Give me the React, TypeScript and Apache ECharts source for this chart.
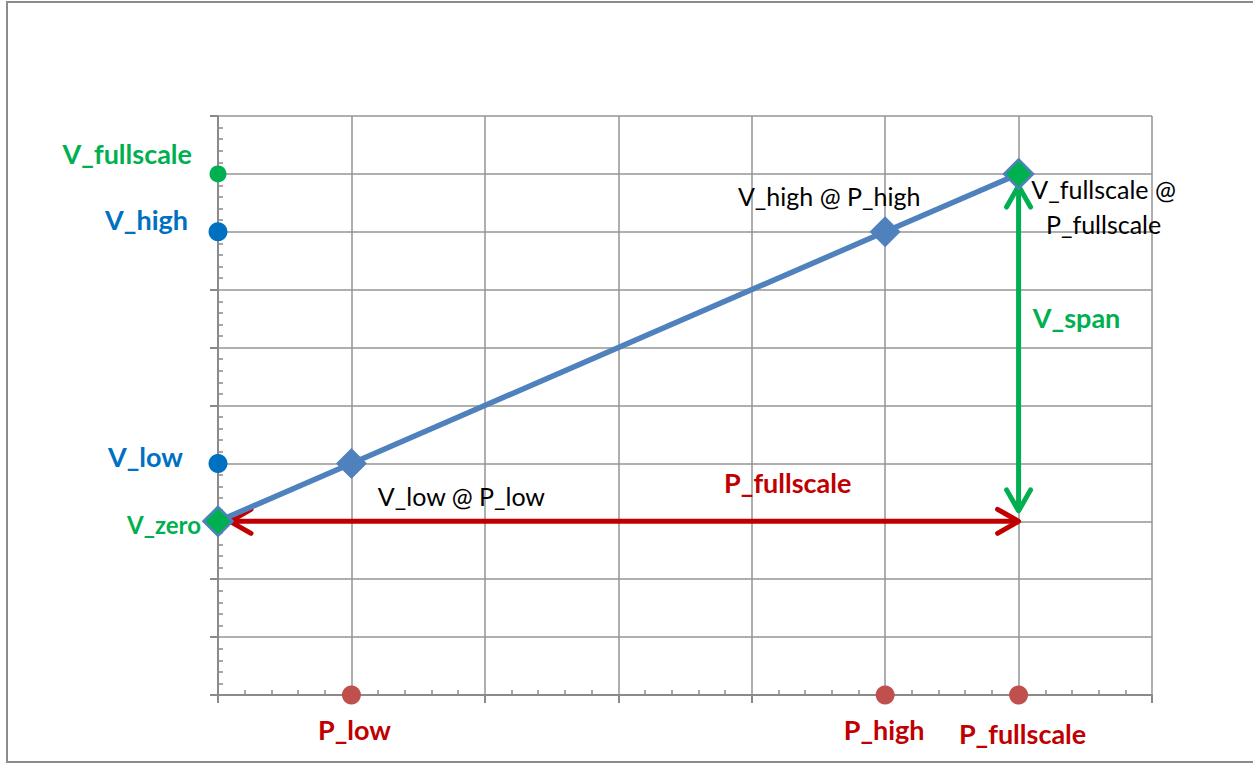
import React, { useEffect, useRef } from "react";
import * as echarts from "echarts";

// ---------- data ----------
const xMin = 0;
const xMax = 7;
const yMin = 0;
const yMax = 10;

// transfer line: pressure (x) vs voltage (y)
const transferX = [0, 1, 5, 6];
const transferY = [3, 4, 8, 9];

// points marked on the pressure axis
const pNames = ["P_low", "P_high", "P_fullscale"];
const pValues = [1, 5, 6];

// points marked on the voltage axis
const vNames = ["V_fullscale", "V_high", "V_low", "V_zero"];
const vValues = [9, 8, 4, 3];
const vDotNames = ["V_fullscale", "V_high", "V_low"];
const vDotValues = [9, 8, 4];

// labels of the transfer-line points
const pointLabelNames = ["V_low @ P_low", "V_high @ P_high", "V_fullscale @\nP_fullscale"];
const pointLabelX = [1, 5, 6];
const pointLabelY = [4, 8, 9];

// span arrows [x1, y1, x2, y2]
const arrowNames = ["P_fullscale", "V_span"];
const pSpanArrow = [0.09, 3, 6, 3];
const vSpanArrow = [6, 3.18, 6, 8.79];
// where the arrow names sit (data coords)
const arrowLabelX = [4.27, 6];
const arrowLabelY = [3, 6.48];

// ---------- styles ----------
const FONT = 'Lato, "Open Sans", "Liberation Sans", sans-serif';
const GRID_COLOR = "#959595";
const AXIS_COLOR = "#8a8a8a";
const BLUE_LINE = "#4f81bd";
const GREEN = "#00b050";
const BLUE = "#0070c0";
const RED = "#c00000";
const RED_DOT = "#c0504d";

type Lbl = {
  value: number[];
  text: string;
  dx: number;
  dy: number;
  color: string;
  size: number;
  bold: boolean;
  align: "left" | "center" | "right";
  lineHeight?: number;
};

function textSeries(name: string, items: Lbl[]) {
  return {
    type: "custom",
    name,
    xAxisIndex: 0,
    yAxisIndex: 0,
    clip: false,
    z: 20,
    silent: true,
    data: items.map((it) => it.value),
    renderItem: (params: any, api: any) => {
      const it = items[params.dataIndex];
      const p = api.coord([api.value(0), api.value(1)]);
      return {
        type: "text",
        x: p[0] + it.dx,
        y: p[1] + it.dy,
        style: {
          text: it.text,
          fill: it.color,
          fontSize: it.size,
          fontWeight: it.bold ? "bold" : "normal",
          fontFamily: FONT,
          align: it.align,
          verticalAlign: "middle",
          lineHeight: it.lineHeight || it.size * 1.2,
        },
      };
    },
  };
}

export default function App() {
  const ref = useRef<HTMLDivElement>(null);

  useEffect(() => {
    if (!ref.current) return;
    const chart = echarts.init(ref.current, null, { renderer: "svg" });

    const vOffsets = [
      { dx: -26, dy: -20, color: GREEN, size: 27 },
      { dx: -30, dy: -12, color: BLUE, size: 27 },
      { dx: -35, dy: -7, color: BLUE, size: 27 },
      { dx: -17, dy: 3, color: GREEN, size: 24 },
    ];
    const vLabelItems: Lbl[] = vNames.map((n, i) => ({
      value: [xMin, vValues[i]],
      text: n,
      dx: vOffsets[i].dx,
      dy: vOffsets[i].dy,
      color: vOffsets[i].color,
      size: vOffsets[i].size,
      bold: true,
      align: "right",
    }));

    const pOffsets = [
      { dx: 3, dy: 34 },
      { dx: -1, dy: 34 },
      { dx: 4, dy: 38 },
    ];
    const pLabelItems: Lbl[] = pNames.map((n, i) => ({
      value: [pValues[i], yMin],
      text: n,
      dx: pOffsets[i].dx,
      dy: pOffsets[i].dy,
      color: RED,
      size: 27,
      bold: true,
      align: "center",
    }));

    const ptOffsets = [
      { dx: 110, dy: 33 },
      { dx: -56, dy: -36 },
      { dx: 85, dy: 33 },
    ];
    const pointLabelItems: Lbl[] = pointLabelNames.map((n, i) => ({
      value: [pointLabelX[i], pointLabelY[i]],
      text: n,
      dx: ptOffsets[i].dx,
      dy: ptOffsets[i].dy,
      color: "#000000",
      size: 25,
      bold: false,
      align: "center",
      lineHeight: 35,
    }));

    const arrowLabelItems: Lbl[] = [
      {
        value: [arrowLabelX[0], arrowLabelY[0]],
        text: arrowNames[0],
        dx: 0,
        dy: -39,
        color: RED,
        size: 27,
        bold: true,
        align: "center",
      },
      {
        value: [arrowLabelX[1], arrowLabelY[1]],
        text: arrowNames[1],
        dx: 58,
        dy: -2,
        color: GREEN,
        size: 27,
        bold: true,
        align: "center",
      },
    ];

    const arrowColors = [RED, GREEN];

    const baseX = {
      type: "value",
      min: xMin,
      max: xMax,
      interval: 1,
      gridIndex: 0,
    };
    const baseY = {
      type: "value",
      min: yMin,
      max: yMax,
      interval: 1,
      gridIndex: 0,
    };

    const option: any = {
      animation: false,
      backgroundColor: "#ffffff",
      graphic: [
        {
          type: "rect",
          shape: { x: 7, y: 2, width: 1270, height: 760 },
          style: { fill: "none", stroke: "#8c8c8c", lineWidth: 2 },
          silent: true,
          z: -10,
        },
      ],
      grid: { left: 218, right: 101, top: 116, bottom: 69, containLabel: false },
      xAxis: [
        {
          ...baseX,
          position: "bottom",
          axisLine: { show: true, onZero: false, lineStyle: { color: AXIS_COLOR, width: 2 } },
          axisTick: { show: false, inside: true },
          minorTick: { show: true, splitNumber: 5, length: 5, lineStyle: { color: AXIS_COLOR, width: 1.5 } },
          axisLabel: { show: false },
          splitLine: { show: true, lineStyle: { color: GRID_COLOR, width: 1.5 } },
        },
        {
          ...baseX,
          position: "bottom",
          axisLine: { show: false },
          axisTick: { show: true, inside: false, length: 8, lineStyle: { color: AXIS_COLOR, width: 2 } },
          axisLabel: { show: false },
          splitLine: { show: false },
        },
      ],
      yAxis: [
        {
          ...baseY,
          position: "left",
          axisLine: { show: true, onZero: false, lineStyle: { color: AXIS_COLOR, width: 2 } },
          axisTick: { show: false, inside: true },
          minorTick: { show: true, splitNumber: 5, length: 5, lineStyle: { color: AXIS_COLOR, width: 1.5 } },
          axisLabel: { show: false },
          splitLine: { show: true, lineStyle: { color: GRID_COLOR, width: 1.5 } },
        },
        {
          ...baseY,
          position: "left",
          axisLine: { show: false },
          axisTick: { show: true, inside: false, length: 8, lineStyle: { color: AXIS_COLOR, width: 2 } },
          axisLabel: { show: false },
          splitLine: { show: false },
        },
      ],
      series: [
        {
          type: "custom",
          name: "arrows",
          xAxisIndex: 0,
          yAxisIndex: 0,
          clip: false,
          z: 5,
          silent: true,
          data: [pSpanArrow, vSpanArrow],
          renderItem: (params: any, api: any) => {
            const a = api.coord([api.value(0), api.value(1)]);
            const b = api.coord([api.value(2), api.value(3)]);
            const color = arrowColors[params.dataIndex];
            const dx = b[0] - a[0];
            const dy = b[1] - a[1];
            const len = Math.hypot(dx, dy) || 1;
            const ux = dx / len;
            const uy = dy / len;
            const nx = -uy;
            const ny = ux;
            const L = 21;
            const W = 12;
            const head = (t: number[], sx: number, sy: number) => [
              [t[0] - sx * L + nx * W, t[1] - sy * L + ny * W],
              [t[0], t[1]],
              [t[0] - sx * L - nx * W, t[1] - sy * L - ny * W],
            ];
            const st = { stroke: color, lineWidth: 5, fill: "none", lineCap: "round", lineJoin: "round" };
            return {
              type: "group",
              children: [
                { type: "line", shape: { x1: a[0], y1: a[1], x2: b[0], y2: b[1] }, style: { stroke: color, lineWidth: 5 } },
                { type: "polyline", shape: { points: head(b, ux, uy) }, style: st },
                { type: "polyline", shape: { points: head(a, -ux, -uy) }, style: st },
              ],
            };
          },
        },
        {
          type: "line",
          name: "transfer",
          xAxisIndex: 0,
          yAxisIndex: 0,
          z: 10,
          silent: true,
          lineStyle: { color: BLUE_LINE, width: 5.5 },
          symbol: "diamond",
          showSymbol: true,
          data: transferX.map((x, i) => {
            const end = i === 0 || i === transferX.length - 1;
            return {
              value: [x, transferY[i]],
              symbolSize: end ? 29 : 31,
              itemStyle: end
                ? { color: GREEN, borderColor: BLUE_LINE, borderWidth: 2.5, opacity: 1 }
                : { color: BLUE_LINE, borderWidth: 0, opacity: 1 },
            };
          }),
        },
        {
          type: "scatter",
          name: "vDots",
          xAxisIndex: 0,
          yAxisIndex: 0,
          clip: false,
          z: 8,
          silent: true,
          symbol: "circle",
          data: vDotValues.map((v, i) => ({
            value: [xMin, v],
            symbolSize: i === 0 ? 17 : 19,
            itemStyle: { color: vDotNames[i] === "V_fullscale" ? GREEN : BLUE, opacity: 1 },
          })),
        },
        {
          type: "scatter",
          name: "pDots",
          xAxisIndex: 0,
          yAxisIndex: 0,
          clip: false,
          z: 8,
          silent: true,
          symbol: "circle",
          symbolSize: 19,
          itemStyle: { color: RED_DOT, opacity: 1 },
          data: pValues.map((p) => [p, yMin]),
        },
        textSeries("vLabels", vLabelItems),
        textSeries("pLabels", pLabelItems),
        textSeries("pointLabels", pointLabelItems),
        textSeries("arrowLabels", arrowLabelItems),
      ],
    };

    chart.setOption(option);
    return () => chart.dispose();
  }, []);

  return (
    <div
      ref={ref}
      style={{ position: "fixed", left: 0, top: 0, width: 1253, height: 764, background: "#fff" }}
    />
  );
}
